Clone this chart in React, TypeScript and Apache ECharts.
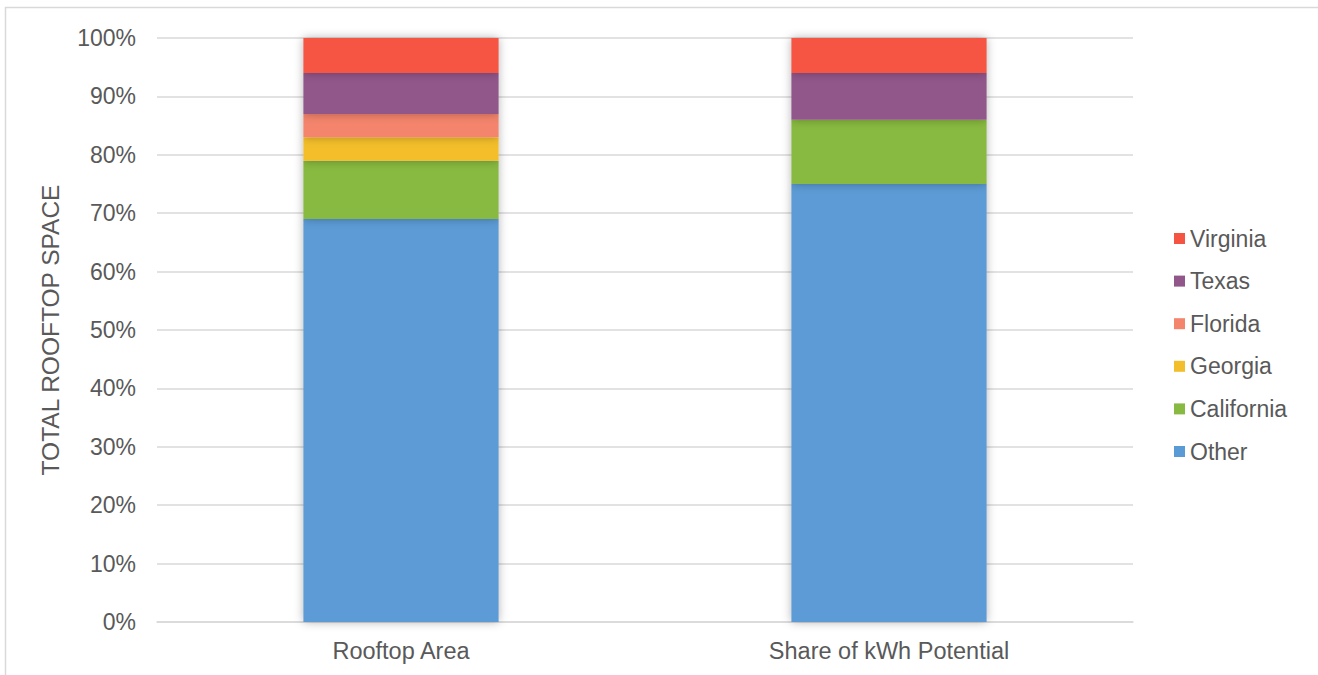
import React, { useEffect, useRef } from "react";
import * as echarts from "echarts";

const categories = ["Rooftop Area", "Share of kWh Potential"];
const seriesNames = ["Other", "California", "Georgia", "Florida", "Texas", "Virginia"];
const other = [69, 75];
const california = [10, 11];
const georgia = [4, 0];
const florida = [4, 0];
const texas = [7, 8];
const virginia = [6, 6];
const legendOrder = ["Virginia", "Texas", "Florida", "Georgia", "California", "Other"];
const yTicks = [0, 10, 20, 30, 40, 50, 60, 70, 80, 90, 100];

const colors: Record<string, string> = {
  Other: "#5B9BD5",
  California: "#88B941",
  Georgia: "#F3BE2C",
  Florida: "#F4846C",
  Texas: "#91568A",
  Virginia: "#F55442",
};

export default function App() {
  const ref = useRef<HTMLDivElement>(null);
  useEffect(() => {
    if (!ref.current) return;
    const chart = echarts.init(ref.current, undefined, { renderer: "svg" });
    const values = [other, california, georgia, florida, texas, virginia];
    const font = "'Liberation Sans', Arial, sans-serif";
    chart.setOption({
      animation: false,
      backgroundColor: "#ffffff",
      textStyle: { fontFamily: font },
      graphic: [
        {
          type: "rect",
          shape: { x: 5.5, y: 7.5, width: 1330, height: 700 },
          style: { fill: "none", stroke: "#d9d9d9", lineWidth: 1.5 },
          silent: true,
          z: -10,
        },
      ],
      grid: { left: 157, right: 185, top: 38, bottom: 53 },
      legend: {
        data: legendOrder,
        orient: "vertical",
        left: 1169,
        top: 222,
        itemWidth: 11,
        itemHeight: 11,
        itemGap: 19.6,
        icon: "rect",
        textStyle: { color: "#595959", fontSize: 23, fontFamily: font, lineHeight: 23 },
      },
      xAxis: {
        type: "category",
        data: categories,
        axisLine: { lineStyle: { color: "#d9d9d9", width: 1.5 } },
        axisTick: { show: false },
        axisLabel: { color: "#595959", fontSize: 23.5, margin: 17, fontFamily: font },
      },
      yAxis: {
        type: "value",
        min: yTicks[0],
        max: yTicks[yTicks.length - 1],
        interval: 10,
        name: "TOTAL ROOFTOP SPACE",
        nameLocation: "middle",
        nameGap: 94,
        nameTextStyle: { color: "#595959", fontSize: 24.5, fontFamily: font },
        axisLine: { show: false },
        axisTick: { show: false },
        axisLabel: { color: "#595959", fontSize: 23, margin: 21, formatter: "{value}%", fontFamily: font },
        splitLine: { lineStyle: { color: "#d9d9d9", width: 1.5 } },
      },
      series: seriesNames.map((n, i) => ({
        name: n,
        type: "bar",
        stack: "total",
        barWidth: "40%",
        data: values[i],
        itemStyle: {
          color: colors[n],
          shadowColor: "rgba(0,0,0,0.3)",
          shadowBlur: 10,
        },
      })),
    });
    return () => chart.dispose();
  }, []);
  return (
    <div
      ref={ref}
      style={{ position: "absolute", left: 0, top: 0, width: 1318, height: 675 }}
    />
  );
}
